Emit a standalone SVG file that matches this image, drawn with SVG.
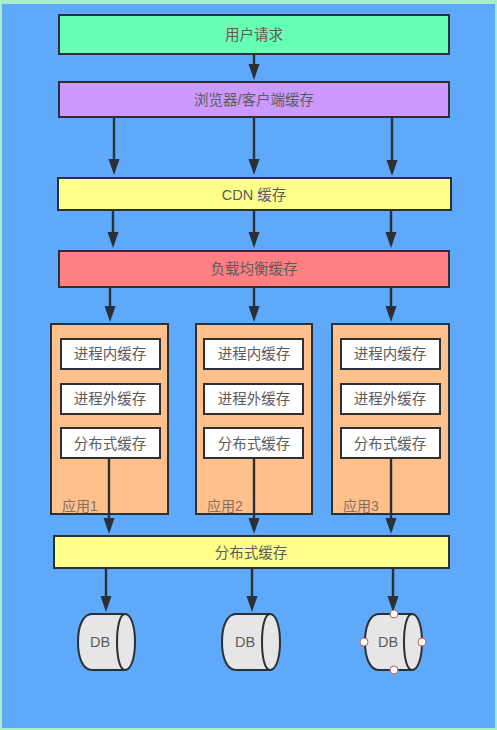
<svg xmlns="http://www.w3.org/2000/svg" width="497" height="730" viewBox="0 0 497 730">
<style>
.b{stroke:#2b2f36;stroke-width:2}
.t{font-family:"Liberation Sans","Noto Sans CJK SC",sans-serif;font-size:14.5px;fill:#5c5c5c;text-anchor:middle}
.app{fill:#ffc08c}
.w{fill:#fff}
.y{fill:#ffff8c}
.c{stroke:#2b2f36;stroke-width:2.4;fill:none;marker-end:url(#a)}
.db{fill:#e6e6e6;stroke:#2b2f36;stroke-width:2}
.h{fill:#fff;stroke:#c06060;stroke-width:1}
.l{font-family:"Liberation Sans","Noto Sans CJK SC",sans-serif;font-size:14px;fill:#85705c}
</style>
<defs>
<marker id="a" markerUnits="userSpaceOnUse" markerWidth="17" markerHeight="13" viewBox="0 0 17 13" refX="10" refY="6.5" orient="auto">
<path d="M0 1L16 6.5L0 12Z" fill="#2b2f36"/>
</marker>
</defs>
<rect width="497" height="730" fill="#a5f0c8"/>
<rect x="2" y="4" width="493" height="724" fill="#5fa9fb"/>
<g id="connectors">
<path class="c" d="M254 54V74"/>
<path class="c" d="M114 117V169"/><path class="c" d="M254 117V169"/><path class="c" d="M392 117V170"/>
<path class="c" d="M113 210V242"/><path class="c" d="M254 210V242"/><path class="c" d="M391 210V242"/>
<path class="c" d="M110 287V316"/><path class="c" d="M254 287V316"/><path class="c" d="M391 287V316"/>
</g>
<g id="user"><rect class="b" x="59" y="15" width="390" height="39" fill="#66ffb3"/><text class="t" x="254" y="40">用户请求</text></g>
<g id="browser"><rect class="b" x="59" y="82" width="390" height="35" fill="#cc99ff"/><text class="t" x="254" y="105">浏览器/客户端缓存</text></g>
<g id="cdn"><rect class="b y" x="58" y="178" width="393" height="32"/><text class="t" x="254" y="200">CDN 缓存</text></g>
<g id="lb"><rect class="b" x="59" y="251" width="390" height="36" fill="#ff8080"/><text class="t" x="254" y="274">负载均衡缓存</text></g>
<g id="app1"><rect class="b app" x="51" y="324" width="117" height="190"/><text class="l" x="62" y="511">应用1</text>
<rect class="b w" x="61" y="339" width="99" height="30"/><text class="t" x="110" y="359">进程内缓存</text>
<rect class="b w" x="61" y="384" width="99" height="30"/><text class="t" x="110" y="404">进程外缓存</text>
<rect class="b w" x="61" y="428" width="99" height="30"/><text class="t" x="110" y="449">分布式缓存</text></g>
<g id="app2"><rect class="b app" x="196" y="324" width="116" height="190"/><text class="l" x="207" y="511">应用2</text>
<rect class="b w" x="204" y="339" width="99" height="30"/><text class="t" x="254" y="359">进程内缓存</text>
<rect class="b w" x="204" y="384" width="99" height="30"/><text class="t" x="254" y="404">进程外缓存</text>
<rect class="b w" x="204" y="428" width="99" height="30"/><text class="t" x="254" y="449">分布式缓存</text></g>
<g id="app3"><rect class="b app" x="332" y="324" width="117" height="190"/><text class="l" x="343" y="511">应用3</text>
<rect class="b w" x="341" y="339" width="99" height="30"/><text class="t" x="390" y="359">进程内缓存</text>
<rect class="b w" x="341" y="384" width="99" height="30"/><text class="t" x="390" y="404">进程外缓存</text>
<rect class="b w" x="341" y="428" width="99" height="30"/><text class="t" x="390" y="449">分布式缓存</text></g>
<g id="connectors2">
<path class="c" d="M109 458V528"/><path class="c" d="M254 458V528"/><path class="c" d="M391 458V528"/>
<path class="c" d="M106 568V606"/><path class="c" d="M252 568V606"/><path class="c" d="M393 568V606"/>
</g>
<g id="dist"><rect class="b y" x="54" y="536" width="395" height="32"/><text class="t" x="251" y="558">分布式缓存</text></g>
<g id="db1"><path class="db" d="M92 614H125C131 614 135 626 135 642C135 658 131 670 125 670H92C83 670 78 658 78 642C78 626 83 614 92 614Z"/><path fill="none" stroke="#2b2f36" stroke-width="2" d="M125 614C120 614 117 626 117 642C117 658 120 670 125 670"/><text class="t" x="100" y="647">DB</text></g>
<g id="db2"><path class="db" d="M236 614H270C276 614 280 626 280 642C280 658 276 670 270 670H236C227 670 222 658 222 642C222 626 227 614 236 614Z"/><path fill="none" stroke="#2b2f36" stroke-width="2" d="M270 614C265 614 262 626 262 642C262 658 265 670 270 670"/><text class="t" x="245" y="647">DB</text></g>
<g id="db3"><path class="db" d="M379 614H412C418 614 422 626 422 642C422 658 418 670 412 670H379C370 670 365 658 365 642C365 626 370 614 379 614Z"/><path fill="none" stroke="#2b2f36" stroke-width="2" d="M412 614C407 614 404 626 404 642C404 658 407 670 412 670"/><text class="t" x="388" y="647">DB</text>
<circle class="h" cx="394" cy="614" r="4"/><circle class="h" cx="394" cy="670" r="4"/><circle class="h" cx="364" cy="642" r="4"/><circle class="h" cx="422" cy="642" r="4"/></g>
</svg>
